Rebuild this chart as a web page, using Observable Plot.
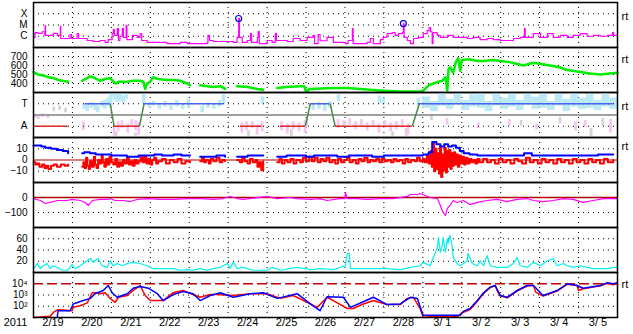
<!DOCTYPE html>
<html><head><meta charset="utf-8">
<script src="https://cdn.jsdelivr.net/npm/d3@7"></script>
<script src="https://cdn.jsdelivr.net/npm/@observablehq/plot@0.6"></script>
<style>
html,body{margin:0;padding:0;background:#fff;}
#chart{position:relative;width:633px;height:334px;overflow:hidden;background:#fff;}
#chart svg{position:absolute;left:0;overflow:visible;}
</style></head><body><div id="chart"></div>
<script>
// ---- time axis (day offsets from 2011-02-19 00:00 UT) ----
const START = Date.UTC(2011, 1, 19);
const toDate = d => new Date(START + d * 864e5);
const yearLabel = "2011";
const dayLabels = ["2/19","2/20","2/21","2/22","2/23","2/24","2/25","2/26","2/27","2/28","3/ 1","3/ 2","3/ 3","3/ 4","3/ 5"];
const dayGrid = [1,2,3,4,5,6,7,8,9,10,11,12,13,14];

// ---- panel 1: X-ray flux (W/m2) ----
const xrayTicks = [1e-6, 1e-5, 1e-4];
const xrayTickLabels = ["C", "M", "X"];
const xrayFlux = [
[0.00,8e-7],[0.04,2.1e-6],[0.12,1.8e-6],[0.22,2.5e-6],[0.29,1.2e-6],[0.30,8.9e-6],[0.31,1.2e-6],[0.51,1.8e-6],[0.61,1.2e-6],[0.68,1.2e-6],[0.69,7.4e-6],[0.70,6.3e-7],[0.94,1.4e-6],[0.98,6.3e-7],[1.12,1.7e-6],[1.16,6.3e-7],[1.38,4.2e-7],[1.53,3.4e-7],[1.71,4.2e-7],[1.84,2.8e-7],[1.92,5e-7],[2.02,1.7e-6],[2.05,4e-6],[2.08,1.2e-6],[2.15,4.9e-6],[2.18,4.2e-7],[2.22,1.0e-6],[2.28,4.9e-6],[2.31,8e-7],[2.38,9.1e-6],[2.40,5e-7],[2.54,1.2e-6],[2.66,8e-7],[2.74,1.7e-6],[2.78,4.2e-7],[2.92,2.8e-7],[3.25,2.8e-7],[3.43,2.2e-7],[3.77,2.8e-7],[3.95,2.2e-7],[4.46,2.8e-7],[4.48,1.2e-6],[4.52,4.2e-7],[4.62,3.4e-7],[4.98,3.4e-7],[5.13,2.8e-7],[5.23,8e-7],[5.27,3.8e-5],[5.29,8e-7],[5.36,2.8e-7],[5.49,4.2e-7],[5.57,1.7e-6],[5.60,2.8e-7],[5.75,8e-7],[5.77,2.6e-6],[5.80,2.2e-7],[6.00,4.2e-7],[6.13,2.8e-7],[6.21,1.7e-6],[6.24,4.2e-7],[6.52,3.4e-7],[6.67,6.3e-7],[6.85,4.2e-7],[7.03,8e-7],[7.18,1.2e-6],[7.22,2.2e-7],[7.31,1.4e-6],[7.36,4e-7],[7.54,8e-7],[7.70,2.8e-7],[8.01,2.2e-7],[8.08,4.2e-7],[8.19,4.9e-6],[8.21,2.2e-7],[8.57,2.8e-7],[8.65,6.3e-7],[8.73,2.2e-7],[8.91,5e-7],[8.98,8e-7],[9.08,1.7e-6],[9.21,2.1e-6],[9.29,1.2e-6],[9.37,1.7e-6],[9.47,2.1e-6],[9.50,1.35e-5],[9.52,8e-7],[9.60,4.2e-7],[9.68,2.2e-7],[9.76,6.3e-7],[9.88,8e-7],[10.01,1.7e-6],[10.11,3.2e-6],[10.16,6e-6],[10.20,2.5e-6],[10.24,2.2e-7],[10.26,2.1e-6],[10.37,1.2e-6],[10.45,8e-7],[10.63,1.2e-6],[10.78,8e-7],[11.14,6.3e-7],[11.29,8e-7],[11.47,5e-7],[11.65,6.3e-7],[11.81,5e-7],[11.99,4.2e-7],[12.33,6.3e-7],[12.50,8e-7],[12.61,4.9e-6],[12.63,8e-7],[12.84,1.7e-6],[13.02,8e-7],[13.20,1.7e-6],[13.35,8e-7],[13.53,1.2e-6],[13.71,8e-7],[13.86,1.2e-6],[14.04,1.7e-6],[14.22,1.0e-6],[14.38,1.2e-6],[14.56,1.0e-6],[14.74,1.2e-6],[14.87,2.1e-6],[14.90,1.2e-6],[15.00,1.2e-6]];
const xrayFlares = [[5.27,3.8e-5],[9.50,1.35e-5]];

// ---- panel 2: solar wind speed (km/s) ----
const speedTicks = [400,500,600,700];
const windSpeed = [
[0.00,525],[0.12,500],[0.25,490],[0.38,470],[0.51,460],[0.63,440],[0.75,430],[0.89,420],[0.90,null],
[1.25,430],[1.33,450],[1.46,480],[1.58,460],[1.71,430],[1.84,450],[1.97,460],[2.10,400],[2.20,420],[2.41,420],[2.56,430],[2.74,430],[2.82,420],[2.87,340],[2.92,400],[3.00,420],[3.07,470],[3.20,450],[3.43,440],[3.59,440],[3.77,430],[3.95,400],[4.02,380],[4.03,null],
[4.28,380],[4.46,370],[4.62,360],[4.80,370],[4.92,340],[4.93,null],
[5.23,370],[5.50,360],[5.75,340],[5.90,330],[5.91,null],
[6.26,350],[6.50,360],[6.85,370],[6.95,370],[7.00,310],[7.10,340],[7.40,345],[7.70,350],[8.06,350],[8.40,340],[8.65,330],[8.98,320],[9.42,310],[9.93,310],[10.01,320],[10.15,380],[10.27,400],[10.40,420],[10.50,430],[10.58,470],[10.63,320],[10.66,560],[10.70,580],[10.78,520],[10.85,640],[10.91,680],[10.96,540],[11.00,660],[11.20,670],[11.40,650],[11.56,650],[11.80,660],[11.99,650],[12.20,640],[12.40,620],[12.58,600],[12.84,630],[13.00,620],[13.27,600],[13.50,580],[13.71,550],[14.00,530],[14.30,510],[14.56,500],[14.80,510],[15.00,520]];

// ---- panel 3: sector polarity (T = toward, A = away) ----
const sectorTicks = [1, -1];
const sectorTickLabels = ["T", "A"];
const towardIntervals = [[1.33,1.97],[2.84,4.87],[7.11,7.62],[9.91,14.89]];
const awayIntervals = [[0.00,0.89],[2.07,2.72],[5.31,5.87],[6.34,6.98],[7.75,9.73]];
const sectorChanges = [[1.97,2.07,"T"],[2.72,2.84,"A"],[6.98,7.11,"A"],[7.62,7.75,"T"],[9.73,9.91,"A"]];
const towardScatter = [
[1.27,0.5,1.0],[1.35,0.3,0.9],[1.45,0.6,1.1],[1.55,0.4,1.0],[1.62,0.2,0.8],[1.72,0.7,1.2],[1.80,0.5,1.3],[1.88,0.8,1.5],[1.95,0.6,1.9],
[2.05,1.3,1.9],[2.12,1.1,1.9],[2.20,1.2,1.9],[2.28,1.0,1.7],[2.35,1.4,1.9],[2.80,1.0,1.9],
[2.95,0.6,1.1],[3.05,0.8,1.2],[3.20,0.5,1.0],[3.35,0.7,1.2],[3.50,0.4,0.9],[3.65,0.7,1.3],[3.80,0.5,1.0],[3.95,0.6,1.4],
[4.30,0.2,0.8],[4.45,0.6,1.1],[4.60,0.5,1.0],[4.75,0.7,1.3],[4.85,0.9,1.8],[5.85,0.9,1.6],
[7.15,0.4,1.0],[7.30,0.5,1.1],[7.45,0.3,1.0],[7.58,0.6,1.2],[7.80,1.2,1.8],[8.85,1.0,1.7],[8.95,0.9,1.5],[9.85,0.8,1.5],
[10.0,0.6,1.6],[10.2,0.3,1.2],[10.4,0.8,1.9],[10.6,0.5,1.4],[10.8,0.9,1.9],[11.0,0.4,1.3],[11.2,0.7,1.8],[11.4,0.6,1.9],[11.6,0.3,1.2],[11.8,0.8,1.9],[12.0,0.5,1.5],[12.2,0.7,1.9],[12.4,0.4,1.3],[12.6,0.9,1.9],[12.8,0.5,1.6],[13.0,0.6,1.9],[13.2,0.4,1.2],[13.4,0.8,1.9],[13.6,0.3,1.4],[13.8,0.7,1.9],[14.0,0.5,1.5],[14.2,0.6,1.8],[14.4,0.4,1.3],[14.6,0.7,1.9],[14.8,0.5,1.5]];
const awayScatter = [
[0.02,-0.3,0.0],[0.10,-0.4,-0.1],[0.20,-0.2,0.1],[0.35,-0.3,0.0],[1.26,-1.4,-0.6],
[2.05,-1.9,-1.0],[2.15,-1.5,-0.6],[2.25,-1.2,-0.5],[2.40,-1.6,-0.8],[2.50,-1.0,-0.4],[2.60,-1.4,-0.5],[2.68,-1.8,-0.7],
[5.33,-1.6,-0.7],[5.45,-1.4,-0.6],[5.60,-1.2,-0.6],[5.72,-1.8,-0.9],[5.85,-1.5,-0.6],
[6.35,-1.4,-0.6],[6.50,-1.7,-0.8],[6.65,-1.3,-0.6],[6.80,-1.5,-0.7],[6.95,-1.6,-0.5],
[7.80,-1.2,-0.4],[7.95,-1.0,-0.5],[8.10,-0.9,-0.3],[8.25,-1.3,-0.6],[8.40,-1.1,-0.4],[8.55,-1.4,-0.7],[8.70,-1.0,-0.5],[8.85,-1.6,-0.8],[9.00,-1.2,-0.5],[9.15,-1.5,-0.7],[9.30,-1.3,-0.6],[9.45,-1.1,-0.4],[9.60,-1.8,-0.8],
[10.6,-0.9,-0.3],[11.4,-1.2,-0.7],[12.2,-1.0,-0.4],[12.9,-1.3,-0.8],[13.9,-1.4,-0.6],[14.15,-1.1,-0.5],[14.8,-1.6,-0.4]];
const grayScatter = [[0.50,0.3,0.7],[0.65,0.4,0.8],[0.80,0.2,0.6],[2.10,-1.9,-1.5],[2.60,-1.9,-1.6],[5.50,-1.9,-1.4],[6.60,-1.9,-1.3],[7.00,-1.0,-0.3],[9.20,-1.9,-1.5],[9.55,-1.9,-1.2],[10.2,-0.5,0.0],[12.5,-1.0,-0.5],[13.5,-0.8,-0.2],[14.3,-1.9,-1.2],[14.6,-1.0,-0.3]];

// ---- panel 4: IMF Bt (blue) and Bz (red), nT ----
const imfTicks = [10, 0, -10];
const imfBt = [
[0.00,13],[0.10,13],[0.20,12],[0.30,11],[0.45,10],[0.60,9],[0.75,8],[0.89,6],[0.90,null],
[1.25,6],[1.30,7],[1.45,6],[1.60,5],[1.80,5],[2.00,4],[2.20,4],[2.40,3],[2.70,4],[3.00,4],[3.10,5],[3.30,4],[3.60,5],[3.80,4],[4.02,4],[4.03,null],
[4.28,3],[4.50,3],[4.70,4],[4.92,3],[4.93,null],[5.23,3],[5.50,4],[5.90,4],[5.91,null],
[6.26,3],[6.50,4],[6.85,4],[7.00,3],[7.20,4],[7.50,4],[7.80,3],[8.10,4],[8.40,4],[8.70,3],[9.00,4],[9.42,4],[9.70,4],[10.00,5],[10.15,7],[10.24,16],[10.35,14],[10.45,12],[10.55,14],[10.65,12],[10.75,13],[10.85,11],[10.95,8],[11.05,6],[11.20,5],[11.40,4],[11.60,4],[12.00,4],[12.40,4],[12.60,6],[12.80,4],[13.00,4],[13.50,4],[14.00,4],[14.50,5],[14.89,5]];
const imfBz = [
[0.00,-2],[0.05,-4],[0.10,-3],[0.15,-6],[0.22,-4],[0.28,-7],[0.33,-5],[0.38,-8],[0.45,-5],[0.52,-4],[0.60,-6],[0.70,-4],[0.80,-5],[0.89,-4],[0.90,null],
[1.25,-6],[1.28,-2],[1.31,-7],[1.35,2],[1.38,-5],[1.42,-8],[1.45,-1],[1.50,-6],[1.55,3],[1.58,-4],[1.62,-7],[1.66,0],[1.70,-3],[1.75,4],[1.78,-2],[1.82,-6],[1.86,1],[1.90,-4],[1.95,3],[2.00,-2],
[2.05,-4],[2.10,1],[2.15,-6],[2.20,-2],[2.25,-5],[2.30,0],[2.35,-3],[2.40,2],[2.45,-4],[2.50,-1],[2.55,-5],[2.60,0],[2.65,-3],[2.70,-1],[2.75,3],[2.80,-2],
[2.85,3],[2.90,-3],[2.95,1],[3.00,-4],[3.05,0],[3.10,2],[3.15,-3],[3.20,-1],[3.30,1],[3.40,-3],[3.50,0],[3.60,-2],[3.70,1],[3.80,-3],[3.90,-1],[4.02,-2],[4.03,null],
[4.28,-1],[4.33,2],[4.38,-2],[4.43,0],[4.50,-3],[4.55,1],[4.62,-1],[4.70,2],[4.78,-2],[4.85,0],[4.92,-1],[4.93,null],
[5.23,0],[5.30,-2],[5.36,2],[5.42,-1],[5.50,-3],[5.56,1],[5.63,-2],[5.70,0],[5.75,-6],[5.80,-2],[5.85,-9],[5.90,-1],[5.91,null],
[6.26,-2],[6.32,1],[6.38,-3],[6.45,0],[6.52,-2],[6.60,1],[6.68,-3],[6.75,0],[6.85,-2],[6.92,2],[7.00,-1],[7.08,3],[7.15,-1],[7.22,2],[7.30,-2],[7.38,1],[7.45,-1],[7.52,2],[7.60,-2],[7.68,0],[7.75,-3],[7.82,1],[7.90,-2],[7.98,0],[8.05,2],[8.12,-2],[8.20,0],[8.28,-3],[8.35,1],[8.42,-1],[8.50,2],[8.58,-2],[8.65,0],[8.72,-1],[8.80,1],[8.88,-2],[8.95,1],[9.02,-1],[9.10,0],[9.18,-2],[9.25,1],[9.32,-1],[9.40,0],[9.48,-3],[9.55,1],[9.62,-2],[9.70,0],[9.78,-1],[9.85,2],[9.92,-1],
[10.00,1],[10.05,-2],[10.10,4],[10.15,-3],[10.20,8],[10.23,-6],[10.26,15],[10.29,-10],[10.32,10],[10.35,-8],[10.38,6],[10.41,-12],[10.44,12],[10.47,-15],[10.50,5],[10.53,-9],[10.56,11],[10.59,-11],[10.62,8],[10.65,-6],[10.68,9],[10.71,-8],[10.74,6],[10.77,-5],[10.80,7],[10.83,-4],[10.86,5],[10.90,-6],[10.94,4],[10.98,-3],[11.02,3],[11.06,-4],[11.10,2],[11.15,-3],[11.20,1],[11.25,-2],[11.30,0],[11.35,-3],[11.40,1],[11.45,-2],
[11.55,1],[11.65,-2],[11.75,0],[11.85,-3],[11.95,1],[12.05,-2],[12.15,0],[12.25,-3],[12.35,1],[12.45,-1],[12.55,-3],[12.65,2],[12.75,-2],[12.85,0],[12.95,-3],[13.05,1],[13.15,-2],[13.25,0],[13.35,-3],[13.45,1],[13.55,-2],[13.65,0],[13.75,-3],[13.85,1],[13.95,-2],[14.05,0],[14.15,-3],[14.25,1],[14.35,-2],[14.45,0],[14.55,-3],[14.65,1],[14.75,-2],[14.89,0]];

// ---- panel 5: Dst (nT) ----
const dstTicks = [0, -100];
const dst = [
[0.00,-7],[0.18,-20],[0.30,-40],[0.43,-33],[0.61,-20],[0.87,-20],[0.99,-13],[1.20,-20],[1.33,-33],[1.41,-53],[1.51,-20],[1.71,-13],[1.89,-13],[1.97,-7],[2.10,-20],[2.30,-20],[2.48,-27],[2.66,-13],[2.92,-7],[3.25,-13],[3.59,-13],[3.95,-7],[4.28,-7],[4.62,-13],[4.87,-7],[5.05,7],[5.23,-7],[5.39,-13],[6.00,7],[6.26,-7],[6.59,0],[6.77,-7],[7.11,-13],[7.36,-7],[7.54,-20],[7.88,-7],[8.00,-7],[8.01,33],[8.06,-7],[8.31,-7],[8.57,-13],[8.91,-7],[9.24,-7],[9.42,0],[9.60,7],[9.68,20],[9.86,20],[9.93,27],[10.19,0],[10.37,-7],[10.45,-53],[10.52,-100],[10.58,-120],[10.63,-73],[10.70,-53],[10.78,-20],[10.88,-33],[11.04,-20],[11.21,-47],[11.40,-33],[11.65,-20],[11.91,-13],[12.17,-27],[12.42,-13],[12.68,-7],[12.84,-20],[13.09,-27],[13.35,-20],[13.61,-7],[13.86,-13],[14.12,-33],[14.38,-20],[14.64,-7],[15.00,-7]];

// ---- panel 6: cyan index ----
const kTicks = [20, 40, 60];
const cyanIndex = [
[0.00,7],[0.10,16],[0.17,7],[0.25,12],[0.35,16],[0.43,7],[0.51,12],[0.61,9],[0.74,4],[0.87,4],[0.94,9],[0.99,14],[1.07,7],[1.20,12],[1.28,16],[1.38,21],[1.46,25],[1.53,18],[1.66,25],[1.76,12],[1.89,9],[1.97,21],[2.05,12],[2.15,16],[2.28,12],[2.41,16],[2.56,18],[2.74,16],[2.92,12],[3.07,7],[3.25,7],[3.43,7],[3.59,7],[3.77,4],[3.95,5],[4.10,4],[4.28,7],[4.46,4],[4.62,7],[4.80,9],[4.87,12],[4.98,16],[5.05,7],[5.13,18],[5.23,7],[5.39,9],[5.64,4],[6.00,4],[6.13,9],[6.34,4],[6.77,9],[7.11,5],[7.36,7],[7.70,5],[8.01,12],[8.06,34],[8.11,34],[8.14,7],[8.39,7],[8.73,7],[9.08,7],[9.42,5],[9.68,9],[9.93,12],[10.01,18],[10.19,12],[10.27,27],[10.37,43],[10.40,62],[10.45,36],[10.50,48],[10.52,62],[10.58,36],[10.63,60],[10.65,52],[10.70,66],[10.75,48],[10.78,27],[10.88,16],[10.96,12],[11.14,21],[11.16,34],[11.27,16],[11.40,12],[11.47,21],[11.56,12],[11.65,30],[11.73,12],[11.91,9],[12.17,9],[12.33,16],[12.42,27],[12.50,12],[12.68,9],[12.84,18],[13.02,12],[13.20,21],[13.35,25],[13.45,12],[13.61,16],[13.71,12],[13.86,9],[14.04,12],[14.22,9],[14.38,7],[14.56,7],[14.74,7],[14.89,9],[15.00,9]];

// ---- panel 7: electron flux ----
const eTicks = [1e2, 1e3, 1e4];
const eTickLabels = ["10\u00b2", "10\u00b3", "10\u2074"];
const eThreshold = [1e4];
const electronRed = [
[0.00,10],[0.43,13],[0.51,28],[0.63,50],[0.99,40],[1.02,80],[1.20,110],[1.38,200],[1.51,1600],[1.64,1600],[1.71,1300],[1.84,1600],[1.97,500],[2.10,220],[2.18,630],[2.41,900],[2.56,2500],[2.74,7000],[2.87,900],[3.00,320],[3.33,320],[3.59,1600],[3.84,2500],[4.10,1100],[4.28,630],[4.54,1100],[4.72,1100],[5.13,900],[5.57,1300],[6.00,1300],[6.34,500],[6.67,900],[7.03,220],[7.29,80],[7.54,630],[7.70,320],[8.06,63],[8.21,63],[8.47,160],[8.73,320],[9.08,140],[9.42,140],[9.60,500],[9.76,630],[9.93,63],[10.01,10],[10.30,13],[10.90,13],[11.00,25],[11.21,50],[11.40,280],[11.56,1400],[11.73,4500],[11.86,7000],[11.92,2000],[11.99,800],[12.17,560],[12.42,2200],[12.68,6300],[12.84,7500],[12.90,1800],[13.09,800],[13.45,2300],[13.71,9000],[13.96,7000],[14.00,2500],[14.12,3600],[14.56,6500],[14.74,11000],[14.89,8000],[15.00,11000]];
const electronBlue = [
[0.61,10],[0.63,40],[0.94,40],[1.02,160],[1.28,320],[1.46,500],[1.58,1300],[1.79,2500],[1.92,7000],[2.02,1600],[2.15,630],[2.41,1300],[2.56,4000],[2.74,5600],[2.95,4000],[3.18,1300],[3.33,320],[3.59,1100],[3.84,2000],[4.10,1300],[4.28,320],[4.54,900],[4.80,1600],[5.13,630],[5.57,1300],[5.90,1600],[6.26,500],[6.77,1300],[7.18,110],[7.36,40],[7.54,700],[7.96,630],[8.14,80],[8.47,250],[8.73,630],[9.08,140],[9.42,160],[9.68,630],[9.86,500],[9.98,28],[10.01,16],[10.27,16],[10.96,16],[11.04,35],[11.21,63],[11.40,320],[11.56,1600],[11.73,5000],[11.86,7000],[11.99,900],[12.17,630],[12.42,2500],[12.68,7000],[12.84,7000],[13.09,900],[13.45,2500],[13.71,10000],[13.96,7000],[14.12,4000],[14.56,7000],[14.74,12600],[14.89,10000],[15.00,12600]];

// ---- drawing ----
const container = document.getElementById("chart");
const FONT = "'Liberation Sans', Arial, sans-serif";
const FS = 10;
const X = d => toDate(d[0]);
const Y = d => d[1];
const dotted = {stroke: "black", strokeDasharray: "1,4", strokeWidth: 1};

function panel({top, y, marks, bottom = 0, rt = null}) {
  const svg = Plot.plot({
    width: 633, height: 45 + bottom,
    marginLeft: 33, marginRight: 16, marginTop: 0, marginBottom: bottom,
    x: {type: "utc", domain: [toDate(0), toDate(15)], axis: null},
    y: {tickSize: 0, tickPadding: 6, label: null, ...y},
    style: {fontFamily: FONT, fontSize: FS + "px", color: "black", background: "transparent", overflow: "visible"},
    marks: [
      Plot.ruleX(dayGrid.map(toDate), dotted),
      ...marks,
      Plot.frame({stroke: "black", strokeWidth: 1.5}),
      ...(rt === null ? [] : [Plot.text(["rt"], {frameAnchor: "top-right", textAnchor: "start", dx: 4, dy: rt, fill: "black", fontSize: FS + 1})])
    ]
  });
  svg.style.top = top + "px";
  container.appendChild(svg);
}

// 1. X-ray
panel({top: 2, rt: 10,
  y: {type: "log", domain: [1e-7, 1e-3], ticks: xrayTicks, tickFormat: d => xrayTickLabels[xrayTicks.indexOf(d)]},
  marks: [
    Plot.ruleY(xrayTicks, dotted),
    Plot.line(xrayFlux, {x: X, y: Y, stroke: "#ff00ff", strokeWidth: 1.2, curve: "step-after"}),
    Plot.dot(xrayFlares, {x: X, y: Y, r: 3, stroke: "#0000ff", fill: "none", strokeWidth: 1.2})
  ]});

// 2. Solar wind speed
panel({top: 47, rt: 8,
  y: {domain: [300, 800], ticks: speedTicks},
  marks: [
    Plot.ruleY(speedTicks, dotted),
    Plot.line(windSpeed, {x: X, y: Y, stroke: "#00ee00", strokeWidth: 2.5})
  ]});

// 3. Sector polarity
panel({top: 92, rt: 10,
  y: {domain: [-2, 2], ticks: sectorTicks, tickFormat: d => sectorTickLabels[sectorTicks.indexOf(d)]},
  marks: [
    Plot.rect(grayScatter, {x1: X, x2: d => toDate(d[0] + 0.07), y1: d => d[1], y2: d => d[2], fill: "#d4d4d4"}),
    Plot.rect(towardScatter, {x1: X, x2: d => toDate(d[0] + (d[0] >= 10 ? 0.2 : 0.09)), y1: d => d[1], y2: d => d[2], fill: "#bce9f7"}),
    Plot.rect(awayScatter, {x1: X, x2: d => toDate(d[0] + 0.07), y1: d => d[1], y2: d => d[2], fill: "#f7c4f1"}),
    Plot.ruleY(sectorTicks, dotted),
    Plot.ruleY([0], {stroke: "#808080", strokeWidth: 1.5}),
    Plot.ruleY(towardIntervals, {x1: X, x2: d => toDate(d[1]), y: () => 1, stroke: "#4a66f0", strokeWidth: 1.5}),
    Plot.ruleY(awayIntervals, {x1: X, x2: d => toDate(d[1]), y: () => -1, stroke: "#e02828", strokeWidth: 1.5}),
    Plot.link(sectorChanges, {x1: X, x2: d => toDate(d[1]), y1: d => d[2] === "T" ? 1 : -1, y2: d => d[2] === "T" ? -1 : 1, stroke: "#4a8a4a", strokeWidth: 1.5})
  ]});

// 4. IMF
panel({top: 137, rt: 5,
  y: {domain: [-20, 20], ticks: imfTicks},
  marks: [
    Plot.ruleY([10, -10], dotted),
    Plot.ruleY([0], {stroke: "#b00000", strokeWidth: 1.2}),
    Plot.line(imfBz, {x: X, y: Y, stroke: "#ff0000", strokeWidth: 2, curve: "step-after"}),
    Plot.line(imfBt, {x: X, y: Y, stroke: "#0000ff", strokeWidth: 2, curve: "step-after"})
  ]});

// 5. Dst
panel({top: 182,
  y: {domain: [-200, 100], ticks: dstTicks},
  marks: [
    Plot.ruleY([-100], dotted),
    Plot.ruleY([0], {stroke: "#b00000", strokeWidth: 1.5}),
    Plot.line(dst, {x: X, y: Y, stroke: "#ff00ff", strokeWidth: 1.2})
  ]});

// 6. cyan index
panel({top: 227,
  y: {domain: [0, 80], ticks: kTicks},
  marks: [
    Plot.ruleY(kTicks, dotted),
    Plot.line(cyanIndex, {x: X, y: Y, stroke: "#00f0f0", strokeWidth: 1.2})
  ]});

// 7. electron flux + date labels
panel({top: 272, rt: 8, bottom: 17,
  y: {type: "log", domain: [10, 1e5], ticks: eTicks, tickFormat: d => eTickLabels[eTicks.indexOf(d)]},
  marks: [
    Plot.ruleY([1e2, 1e3], dotted),
    Plot.ruleY(eThreshold, {stroke: "#c00000", strokeWidth: 1.5, strokeDasharray: "10,4"}),
    Plot.line(electronRed, {x: X, y: Y, stroke: "#ff0000", strokeWidth: 1.5}),
    Plot.line(electronBlue, {x: X, y: Y, stroke: "#0000ff", strokeWidth: 1.5}),
    Plot.text(dayLabels, {x: (d, i) => toDate(i + 0.5), frameAnchor: "bottom", dy: 8, fill: "black", fontSize: FS + 1}),
    Plot.text([yearLabel], {frameAnchor: "bottom-left", textAnchor: "middle", dx: -18, dy: 8, fill: "black", fontSize: FS + 1})
  ]});
</script></body></html>
